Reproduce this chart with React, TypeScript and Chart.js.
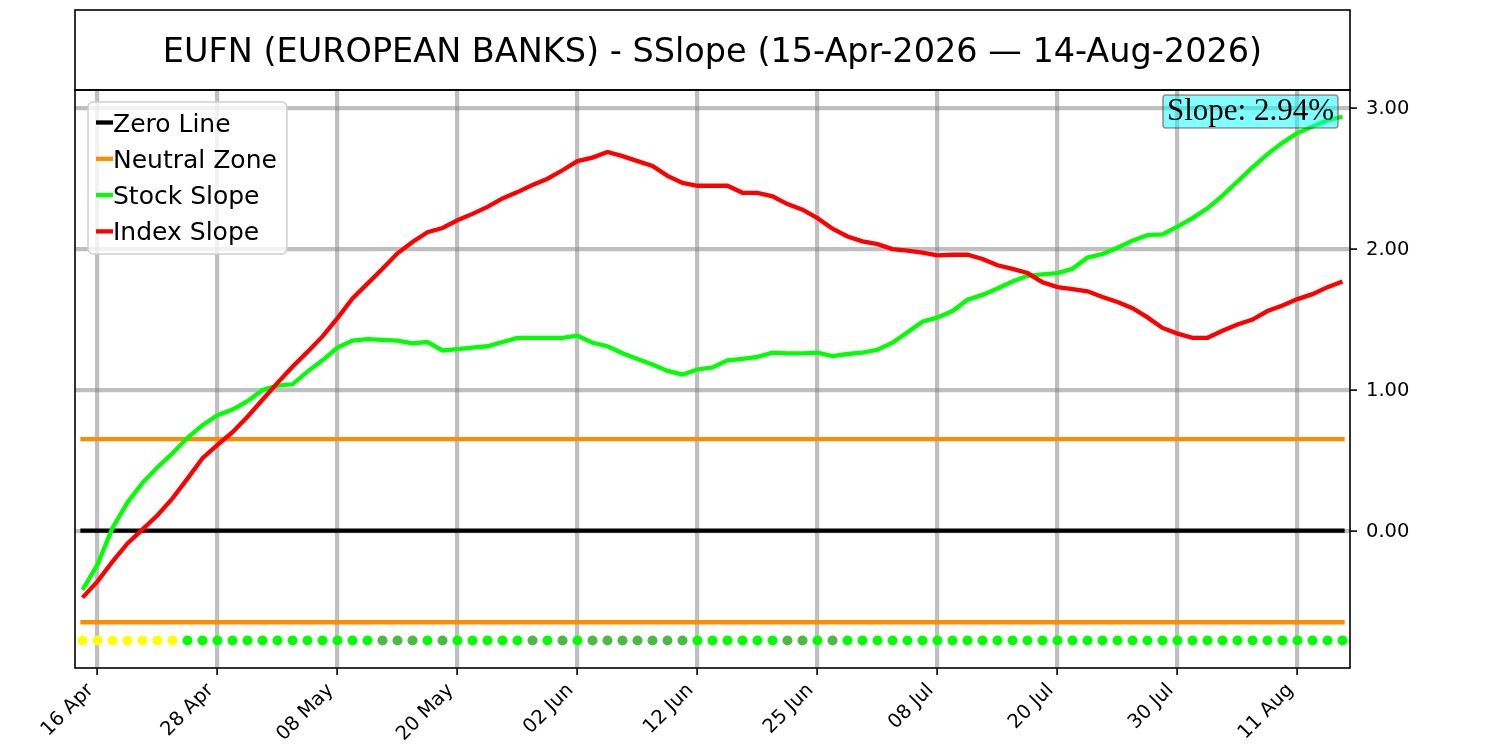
import { useEffect, useRef } from "react";
import { Chart, registerables } from "chart.js";

Chart.register(...registerables);

const chartTitle = "EUFN (EUROPEAN BANKS) - SSlope (15-Apr-2026 \u2014 14-Aug-2026)";

// trading sessions shown on the x axis
const tradingDays = [
  "15 Apr", "16 Apr", "17 Apr", "20 Apr", "21 Apr", "22 Apr", "23 Apr", "24 Apr", "27 Apr", "28 Apr", "29 Apr", "30 Apr",
  "01 May", "04 May", "05 May", "06 May", "07 May", "08 May", "11 May", "12 May", "13 May", "14 May", "15 May", "18 May",
  "19 May", "20 May", "21 May", "22 May", "26 May", "27 May", "28 May", "29 May",
  "01 Jun", "02 Jun", "03 Jun", "04 Jun", "05 Jun", "08 Jun", "09 Jun", "10 Jun", "11 Jun", "12 Jun", "15 Jun", "16 Jun",
  "17 Jun", "18 Jun", "22 Jun", "23 Jun", "24 Jun", "25 Jun", "26 Jun", "29 Jun", "30 Jun",
  "01 Jul", "02 Jul", "06 Jul", "07 Jul", "08 Jul", "09 Jul", "10 Jul", "13 Jul", "14 Jul", "15 Jul", "16 Jul", "17 Jul",
  "20 Jul", "21 Jul", "22 Jul", "23 Jul", "24 Jul", "27 Jul", "28 Jul", "29 Jul", "30 Jul", "31 Jul",
  "03 Aug", "04 Aug", "05 Aug", "06 Aug", "07 Aug", "10 Aug", "11 Aug", "12 Aug", "13 Aug", "14 Aug",
];

const xTickLabels = ["16 Apr", "28 Apr", "08 May", "20 May", "02 Jun", "12 Jun", "25 Jun", "08 Jul", "20 Jul", "30 Jul", "11 Aug"];
const yTickValues = [0, 1, 2, 3];

const stockSlope = [
  -0.42, -0.24, 0.02, 0.2, 0.34, 0.45, 0.55, 0.66, 0.75, 0.82, 0.86, 0.92, 1.0, 1.03, 1.04, 1.13, 1.21, 1.3, 1.35, 1.36,
  1.355, 1.35, 1.33, 1.34, 1.28, 1.29, 1.3, 1.31, 1.34, 1.37, 1.37, 1.37, 1.37, 1.385, 1.335, 1.31, 1.26, 1.22, 1.18,
  1.135, 1.11, 1.145, 1.16, 1.21, 1.22, 1.235, 1.265, 1.26, 1.26, 1.265, 1.24, 1.255, 1.265, 1.285, 1.335, 1.41, 1.485,
  1.515, 1.56, 1.64, 1.675, 1.72, 1.77, 1.81, 1.82, 1.83, 1.86, 1.94, 1.965, 2.01, 2.06, 2.1, 2.105, 2.16, 2.22, 2.29,
  2.38, 2.48, 2.58, 2.675, 2.755, 2.825, 2.87, 2.915, 2.94,
];

const indexSlope = [
  -0.475, -0.36, -0.22, -0.09, 0.01, 0.11, 0.23, 0.37, 0.515, 0.61, 0.7, 0.81, 0.93, 1.05, 1.165, 1.27, 1.38, 1.51, 1.65,
  1.755, 1.86, 1.97, 2.05, 2.12, 2.15, 2.205, 2.25, 2.3, 2.36, 2.405, 2.455, 2.5, 2.56, 2.625, 2.65, 2.69, 2.66, 2.625,
  2.59, 2.52, 2.47, 2.45, 2.45, 2.45, 2.4, 2.4, 2.375, 2.32, 2.28, 2.22, 2.145, 2.09, 2.055, 2.035, 2.0, 1.99, 1.975,
  1.955, 1.96, 1.96, 1.93, 1.885, 1.86, 1.83, 1.765, 1.73, 1.715, 1.7, 1.66, 1.625, 1.58, 1.515, 1.44, 1.4, 1.37, 1.37,
  1.42, 1.465, 1.5, 1.56, 1.6, 1.645, 1.68, 1.73, 1.77,
];

// daily signal: Y = yellow, G = bright green, D = muted green
const signalStates = [
  "Y", "Y", "Y", "Y", "Y", "Y", "Y", "G", "G", "G", "G", "G", "G", "G", "G", "G", "G", "G", "G", "G",
  "D", "D", "D", "G", "D", "G", "G", "G", "G", "G", "D", "G", "D", "G", "D", "D", "D", "D", "D", "D",
  "D", "G", "G", "G", "G", "G", "G", "D", "D", "G", "D", "G", "G", "G", "G", "G", "G", "G", "G", "G",
  "G", "G", "G", "G", "G", "G", "G", "G", "G", "G", "G", "G", "G", "G", "G", "G", "G", "G", "G", "G",
  "G", "G", "G", "G", "G",
];

const zeroLevel = 0;
const neutralBand = 0.65;
const signalRow = -0.78;
const yMin = -0.975;
const yMax = 3.13;

const signalColors: Record<string, string> = { Y: "#ffff00", G: "#00ff00", D: "#4cb944" };

const legendLabels = ["Zero Line", "Neutral Zone", "Stock Slope", "Index Slope"];

const flat = (v: number) => [
  { x: 0, y: v },
  { x: tradingDays.length - 1, y: v },
];

const decorations = {
  id: "decorations",
  afterDraw(chart: any) {
    const { ctx, chartArea: a } = chart;
    ctx.save();

    // plot frame and title box
    ctx.strokeStyle = "#000";
    ctx.lineWidth = 1.6;
    ctx.strokeRect(a.left, a.top, a.right - a.left, a.bottom - a.top);
    ctx.strokeRect(a.left, 10, a.right - a.left, a.top - 10);
    ctx.fillStyle = "#000";
    ctx.font = "33.5px 'DejaVu Sans'";
    ctx.textAlign = "center";
    ctx.textBaseline = "alphabetic";
    ctx.fillText(chartTitle, (a.left + a.right) / 2, 62);

    // legend
    ctx.font = "25px 'DejaVu Sans'";
    const widths = legendLabels.map((l) => ctx.measureText(l).width);
    const lx = a.left + 13;
    const ly = a.top + 12;
    const lw = 25 + Math.max(...widths) + 10;
    const lh = 152;
    ctx.beginPath();
    ctx.roundRect(lx, ly, lw, lh, 5);
    ctx.fillStyle = "rgba(255,255,255,0.8)";
    ctx.fill();
    ctx.strokeStyle = "#d0d0d0";
    ctx.lineWidth = 1.5;
    ctx.stroke();
    ctx.textAlign = "left";
    legendLabels.forEach((label, i) => {
      const ds = chart.data.datasets.find((d: any) => d.label === label);
      const cy = ly + 20.5 + i * 36.3;
      ctx.strokeStyle = ds.borderColor;
      ctx.lineWidth = 4.3;
      ctx.beginPath();
      ctx.moveTo(lx + 8, cy);
      ctx.lineTo(lx + 25, cy);
      ctx.stroke();
      ctx.fillStyle = "#000";
      ctx.fillText(label, lx + 25, cy + 9);
    });

    // latest slope readout
    const last = stockSlope[stockSlope.length - 1];
    const text = `Slope: ${last.toFixed(2)}%`;
    ctx.font = "31px 'Liberation Serif'";
    const tw = ctx.measureText(text).width;
    const bx1 = a.right - 12;
    const bx0 = bx1 - tw - 8;
    ctx.beginPath();
    ctx.roundRect(bx0, 95, bx1 - bx0, 33, 3);
    ctx.fillStyle = "rgba(0,255,255,0.5)";
    ctx.fill();
    ctx.strokeStyle = "rgba(128,0,0,0.45)";
    ctx.lineWidth = 1.6;
    ctx.stroke();
    ctx.fillStyle = "#000";
    ctx.textAlign = "right";
    ctx.fillText(text, bx1 - 4, 119.5);

    ctx.restore();
  },
};

export default function App() {
  const canvasRef = useRef<HTMLCanvasElement>(null);
  const chartRef = useRef<Chart | null>(null);

  useEffect(() => {
    if (!canvasRef.current) return;
    if (chartRef.current) chartRef.current.destroy();

    const xTicks = xTickLabels.map((l) => tradingDays.indexOf(l));
    const lineW = 4.3;

    chartRef.current = new Chart(canvasRef.current, {
      type: "line",
      data: {
        datasets: [
          {
            label: "Index Slope",
            data: indexSlope.map((y, x) => ({ x, y })),
            borderColor: "#ff0000",
            borderWidth: lineW,
            pointRadius: 0,
            order: 1,
          },
          {
            label: "Stock Slope",
            data: stockSlope.map((y, x) => ({ x, y })),
            borderColor: "#00ff00",
            borderWidth: lineW,
            pointRadius: 0,
            order: 2,
          },
          {
            label: "Neutral Zone",
            data: flat(neutralBand),
            borderColor: "#ff8c00",
            borderWidth: lineW,
            borderCapStyle: "square",
            pointRadius: 0,
            order: 3,
          },
          {
            label: "Neutral Zone (lower)",
            data: flat(-neutralBand),
            borderColor: "#ff8c00",
            borderWidth: lineW,
            borderCapStyle: "square",
            pointRadius: 0,
            order: 3,
          },
          {
            label: "Zero Line",
            data: flat(zeroLevel),
            borderColor: "#000000",
            borderWidth: lineW,
            borderCapStyle: "square",
            pointRadius: 0,
            order: 4,
          },
          {
            label: "Signal",
            data: signalStates.map((_, x) => ({ x, y: signalRow })),
            showLine: false,
            borderColor: "transparent",
            pointRadius: 5,
            pointBorderWidth: 0,
            pointBackgroundColor: signalStates.map((s) => signalColors[s]),
            order: 5,
          },
        ],
      },
      options: {
        responsive: false,
        animation: false,
        devicePixelRatio: 1,
        layout: { padding: { left: 75, top: 90, right: 0, bottom: 0 } },
        plugins: {
          legend: { display: false },
          tooltip: { enabled: false },
          title: { display: false },
        },
        scales: {
          x: {
            type: "linear",
            min: -0.5,
            max: tradingDays.length - 0.5,
            afterBuildTicks: (s: any) => {
              s.ticks = xTicks.map((value) => ({ value }));
            },
            afterFit: (s: any) => {
              s.height = 82;
            },
            border: { display: false },
            grid: {
              color: "rgba(128,128,128,0.5)",
              lineWidth: 4.2,
              tickLength: 7,
              tickColor: "#000",
              tickWidth: 1.6,
            },
            ticks: {
              autoSkip: false,
              minRotation: 45,
              maxRotation: 45,
              padding: 4,
              labelOffset: -7,
              color: "#000",
              font: { family: "DejaVu Sans", size: 19.5 },
              callback: (v: any) => tradingDays[v as number],
            },
          },
          y: {
            type: "linear",
            position: "right",
            min: yMin,
            max: yMax,
            afterBuildTicks: (s: any) => {
              s.ticks = yTickValues.map((value) => ({ value }));
            },
            afterFit: (s: any) => {
              s.width = 150;
            },
            border: { display: false },
            grid: {
              color: "rgba(128,128,128,0.5)",
              lineWidth: 4.2,
              tickLength: 7,
              tickColor: "#000",
              tickWidth: 1.6,
            },
            ticks: {
              padding: 9,
              labelOffset: 1,
              color: "#000",
              font: { family: "DejaVu Sans", size: 19.5 },
              callback: (v: any) => Number(v).toFixed(2),
            },
          },
        },
      },
      plugins: [decorations],
    } as any);

    return () => {
      if (chartRef.current) {
        chartRef.current.destroy();
        chartRef.current = null;
      }
    };
  }, []);

  return (
    <div style={{ position: "absolute", left: 0, top: 0, width: 1500, height: 750, background: "#fff" }}>
      <canvas ref={canvasRef} width={1500} height={750} style={{ display: "block" }} />
    </div>
  );
}
